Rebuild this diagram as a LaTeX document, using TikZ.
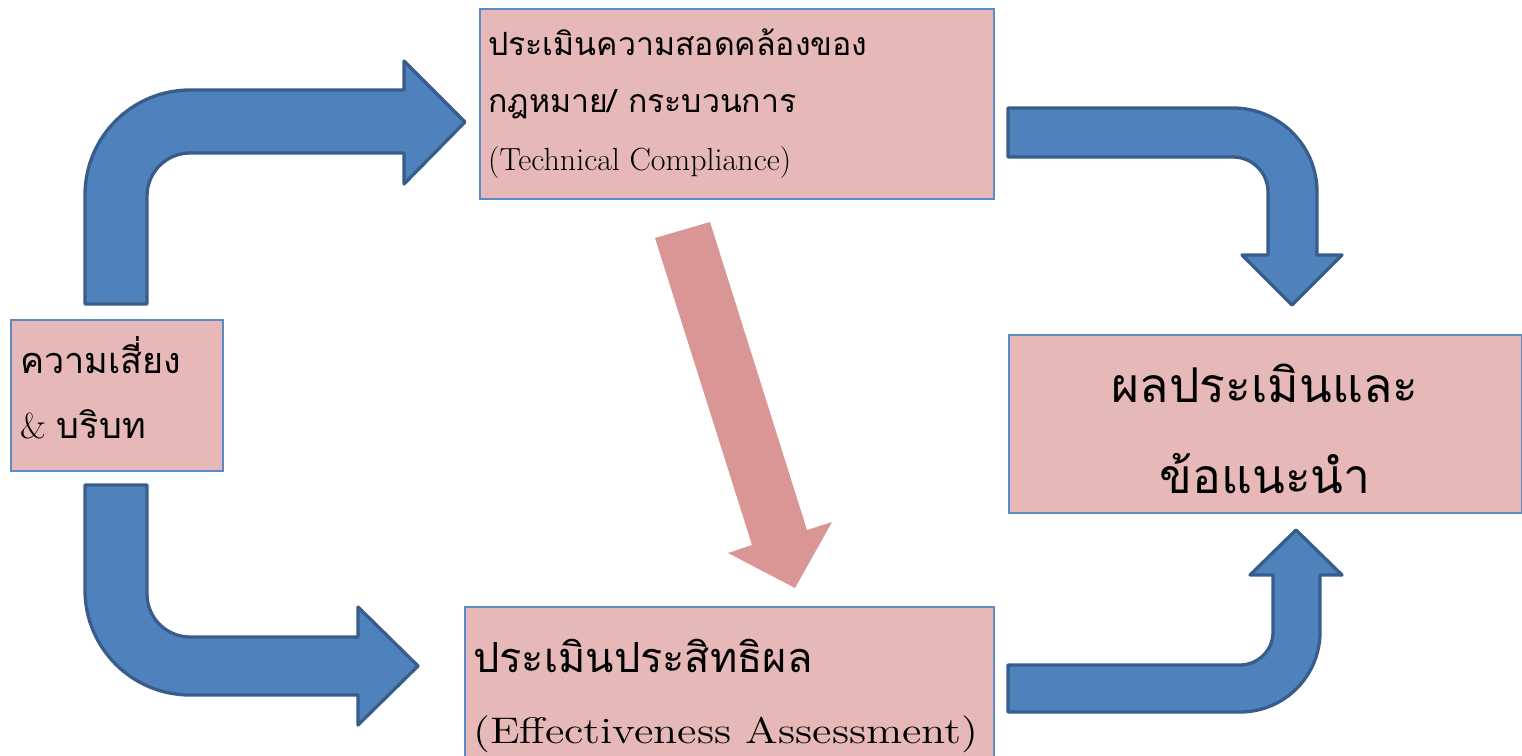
\documentclass[tikz,border=0pt]{standalone}
\usepackage{fontspec}
\usepackage{tikz}
\usetikzlibrary{arrows}
\newfontfamily\thaifont[Script=Thai]{Loma}
\newfontfamily\widefont[FakeStretch=1.2]{lmroman12-regular.otf}
\definecolor{boxfill}{HTML}{E6B9B8}
\definecolor{boxline}{HTML}{5B8AC6}
\definecolor{bendfill}{HTML}{4F81BD}
\definecolor{bendline}{HTML}{385D8A}
\definecolor{pinkfill}{HTML}{D99694}

\begin{document}
\begin{tikzpicture}[x=1pt,y=-1pt,
  main box/.style={rectangle,fill=boxfill,draw=boxline,line width=1.5pt,anchor=north west,inner sep=0pt},
  bend arrow/.style={fill=bendfill,draw=bendline,line width=3.3pt,line join=round},
  label/.style={anchor=base west,inner sep=0pt}]

  \useasboundingbox (0,0) rectangle (1522,755);
  \clip (0,0) rectangle (1522,755);

  \node[main box,minimum width=514pt,minimum height=190pt] (tech) at (479,8) {};
  \node[main box,minimum width=212pt,minimum height=151pt] (risk) at (10,319) {};
  \node[main box,minimum width=513pt,minimum height=178pt] (result) at (1008,334) {};
  \node[main box,minimum width=529pt,minimum height=170pt] (effect) at (464,606) {};

  \node[label] (t1) at (488,55) {\fontsize{32}{38}\thaifont ประเมินความสอดคล้องของ};
  \node[label] (t2) at (488,112) {\fontsize{32}{38}\thaifont กฎหมาย/ กระบวนการ};
  \node[label] (t3) at (488,170) {\fontsize{32}{36}\selectfont (Technical Compliance)};

  \node[label] (r1) at (20,373) {\fontsize{36}{42}\thaifont ความเสี่ยง};
  \node[label] (r2) at (20,438) {\fontsize{36}{42}\selectfont \&~{\thaifont บริบท}};

  \node[label,anchor=base] (s1) at (1265,402) {\fontsize{48}{56}\thaifont ผลประเมินและ};
  \node[label,anchor=base] (s2) at (1265,493) {\fontsize{48}{56}\thaifont ข้อแนะนำ};

  \node[label] (e1) at (473,672) {\fontsize{41.5}{48}\thaifont ประเมินประสิทธิผล};
  \node[label] (e2) at (473,743) {\fontsize{37}{44}\widefont (Effectiveness Assessment)};

  \draw[bend arrow] (85,304) -- (85,195) arc[start angle=180,end angle=270,radius=105]
    -- (404,90) -- (404,61) -- (465,122) -- (404,184) -- (404,153) -- (190,153)
    arc[start angle=270,end angle=180,radius=43] -- (147,304) -- cycle;

  \draw[bend arrow] (85,485) -- (85,590) arc[start angle=180,end angle=90,radius=105]
    -- (358,695) -- (358,725) -- (418,666) -- (358,607) -- (358,637) -- (190,637)
    arc[start angle=90,end angle=180,radius=43] -- (147,485) -- cycle;

  \draw[bend arrow] (1008,108) -- (1233,108) arc[start angle=270,end angle=360,radius=84]
    -- (1317,255) -- (1342,255) -- (1292,305) -- (1242,255) -- (1268,255) -- (1268,192)
    arc[start angle=0,end angle=-90,radius=35] -- (1008,157) -- cycle;

  \draw[bend arrow] (1008,712) -- (1240,712) arc[start angle=90,end angle=0,radius=80]
    -- (1320,575) -- (1342,575) -- (1296,530) -- (1250,575) -- (1273,575) -- (1273,632)
    arc[start angle=0,end angle=90,radius=33] -- (1008,665) -- cycle;

  \fill[pinkfill] (655,238) -- (710,222) -- (807,530) -- (832,522) -- (795,588)
    -- (728,553) -- (752,545) -- cycle;
\end{tikzpicture}
\end{document}
